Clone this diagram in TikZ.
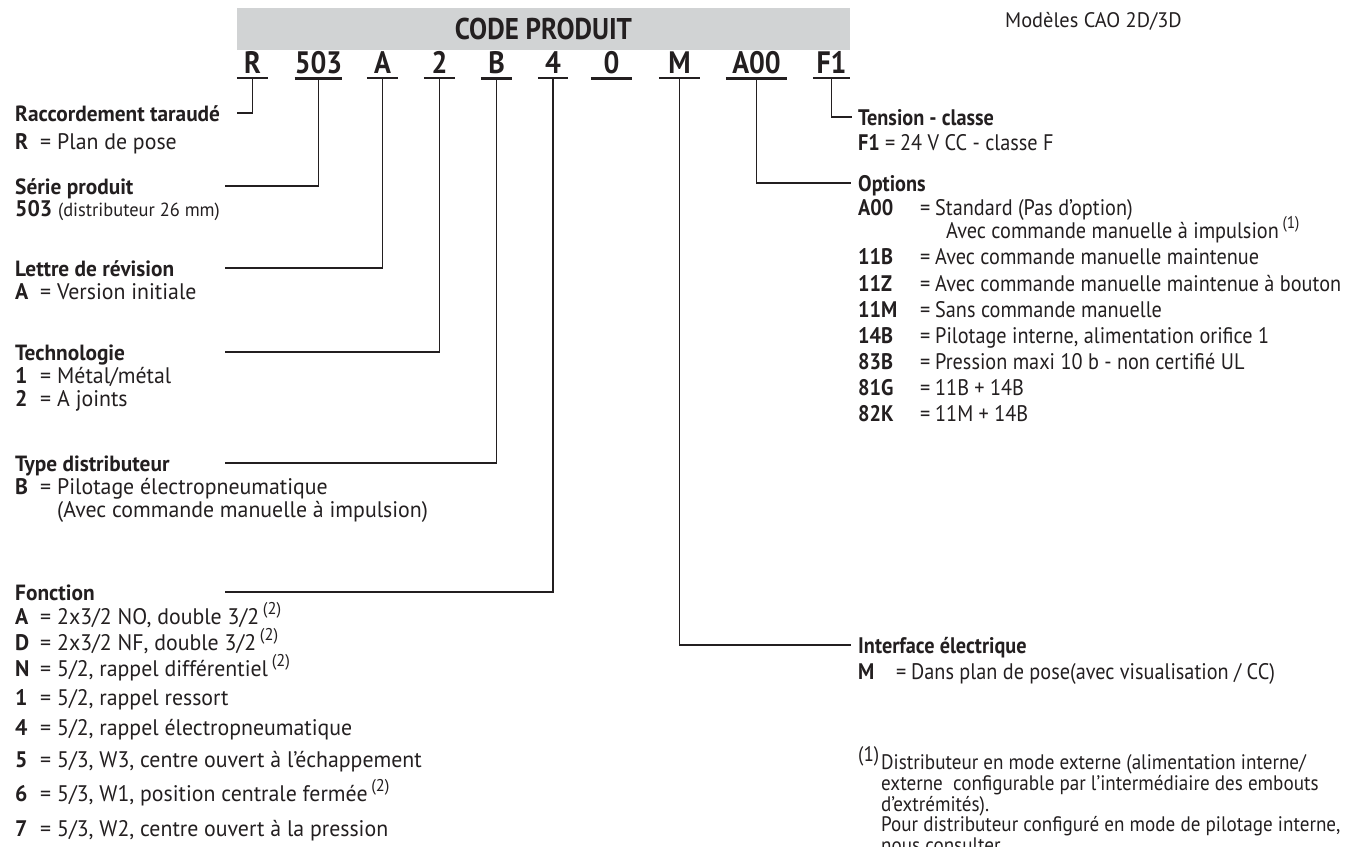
\documentclass[tikz,border=0pt]{standalone}
\usepackage{fontspec}
\setmainfont{PT Sans}[FakeStretch=0.97]
\newfontfamily\condfont{PT Sans}[FakeStretch=0.9]
\newfontfamily\notefont{PT Sans}[FakeStretch=0.91]
\definecolor{ink}{HTML}{231F20}
\definecolor{bandgray}{HTML}{D1D3D4}
\newcommand{\lcode}[2]{\makebox[25pt][l]{\bfseries #1}\makebox[17pt][l]{=}#2}
\newcommand{\ropt}[2]{\makebox[62pt][l]{\bfseries #1}\makebox[15pt][l]{=}#2}
\newcommand{\fnref}[1]{\,\raisebox{0.42em}{\fontsize{17}{17}\selectfont(#1)}}

\begin{document}
\begin{tikzpicture}[x=1pt,y=-1pt,
	txt/.style={anchor=base west, inner sep=0pt, text=ink, font=\fontsize{22.5}{26}\selectfont},
	lhead/.style={txt, text height=16pt, text depth=0pt, font=\bfseries\fontsize{22}{26}\selectfont},
	rtxt/.style={txt, font=\condfont\fontsize{22.5}{26}\selectfont},
	rhead/.style={txt, text height=16pt, text depth=0pt, font=\condfont\bfseries\fontsize{22.5}{26}\selectfont},
	note/.style={txt, font=\notefont\fontsize{21}{23}\selectfont},
	code/.style={anchor=base, inner xsep=0pt, inner ysep=5pt, text=ink, font=\condfont\bfseries\fontsize{31}{33}\selectfont},
	link/.style={draw=ink, line width=1.4pt},
	bar/.style={draw=ink, line width=2.4pt}]
	\useasboundingbox (0,0) rectangle (1360,846);

	% bandeau et code
	\node[fill=bandgray, minimum width=613pt, minimum height=42pt, inner sep=0pt, text=ink,
		font=\condfont\bfseries\fontsize{30}{32}\selectfont] (band) at (543.5,29) {CODE PRODUIT};
	\node[txt, font=\fontsize{21}{25}\selectfont] (cao) at (1005,27) {Modèles CAO 2D/3D};

	\node[code, minimum width=31pt] (cR) at (252.5,73) {R};
	\node[code, minimum width=47pt] (cSerie) at (318.5,73) {503};
	\node[code, minimum width=31pt] (cRev) at (382.5,73) {A};
	\node[code, minimum width=31pt] (cTech) at (439.5,73) {2};
	\node[code, minimum width=31pt] (cType) at (496.5,73) {B};
	\node[code, minimum width=30pt] (cFct) at (553,73) {4};
	\node[code, minimum width=41pt] (cZero) at (611.5,73) {0};
	\node[code, minimum width=41pt] (cInt) at (679.5,73) {M};
	\node[code, minimum width=61pt] (cOpt) at (756.5,73) {A00};
	\node[code, minimum width=37pt] (cTen) at (831.5,73) {F1};
	\foreach \c in {cR,cSerie,cRev,cTech,cType,cFct,cZero,cInt,cOpt,cTen}
		\draw[bar] (\c.south west) -- (\c.south east);

	% colonne gauche
	\node[lhead] (hRacc) at (15,121) {\makebox[210pt][l]{Raccordement taraudé}};
	\node[txt] (iR) at (15,149) {\lcode{R}{Plan de pose}};

	\node[lhead] (hSerie) at (15,194) {\makebox[210pt][l]{Série produit}};
	\node[txt] (i503) at (15,216) {\textbf{503} {\fontsize{19}{22}\selectfont(distributeur 26 mm)}};

	\node[lhead] (hRev) at (15,276) {\makebox[210pt][l]{Lettre de révision}};
	\node[txt] (iA) at (15,299) {\lcode{A}{Version initiale}};

	\node[lhead] (hTech) at (15,360) {\makebox[210pt][l]{Technologie}};
	\node[txt] (iT1) at (15,383) {\lcode{1}{Métal/métal}};
	\node[txt] (iT2) at (15,406) {\lcode{2}{A joints}};

	\node[lhead] (hType) at (15,471) {\makebox[210pt][l]{Type distributeur}};
	\node[txt] (iB) at (15,494) {\lcode{B}{Pilotage électropneumatique}};
	\node[txt] (iB2) at (57,517) {(Avec commande manuelle à impulsion)};

	\node[lhead] (hFct) at (15,600) {\makebox[210pt][l]{Fonction}};
	\node[txt] (fA) at (15,624) {\lcode{A}{2x3/2 NO, double 3/2\fnref{2}}};
	\node[txt] (fD) at (15,650) {\lcode{D}{2x3/2 NF, double 3/2\fnref{2}}};
	\node[txt] (fN) at (15,676) {\lcode{N}{5/2, rappel différentiel\fnref{2}}};
	\node[txt] (f1) at (15,705) {\lcode{1}{5/2, rappel ressort}};
	\node[txt] (f4) at (15,735) {\lcode{4}{5/2, rappel électropneumatique}};
	\node[txt] (f5) at (15,767) {\lcode{5}{5/3, W3, centre ouvert à l’échappement}};
	\node[txt] (f6) at (15,801) {\lcode{6}{5/3, W1, position centrale fermée\fnref{2}}};
	\node[txt] (f7) at (15,836) {\lcode{7}{5/3, W2, centre ouvert à la pression}};

	% colonne droite
	\node[rhead] (hTen) at (858,125) {Tension - classe};
	\node[rtxt] (rF1) at (858,150) {\makebox[27pt][l]{\bfseries F1}\makebox[15pt][l]{=}24 V CC - classe F};

	\node[rhead] (hOpt) at (858,191) {Options};
	\node[rtxt] (oA00) at (858,215) {\ropt{A00}{Standard (Pas d’option)}};
	\node[rtxt] (oA00b) at (946,238) {Avec commande manuelle à impulsion\fnref{1}};
	\node[rtxt] (o11B) at (858,264) {\ropt{11B}{Avec commande manuelle maintenue}};
	\node[rtxt] (o11Z) at (858,291) {\ropt{11Z}{Avec commande manuelle maintenue à bouton}};
	\node[rtxt] (o11M) at (858,317) {\ropt{11M}{Sans commande manuelle}};
	\node[rtxt] (o14B) at (858,343) {\ropt{14B}{Pilotage interne, alimentation orifice 1}};
	\node[rtxt] (o83B) at (858,369) {\ropt{83B}{Pression maxi 10 b - non certifié UL}};
	\node[rtxt] (o81G) at (858,395) {\ropt{81G}{11B + 14B}};
	\node[rtxt] (o82K) at (858,421) {\ropt{82K}{11M + 14B}};

	\node[rhead] (hInt) at (858,653) {Interface électrique};
	\node[rtxt] (iM) at (858,679) {\makebox[38pt][l]{\bfseries M}\makebox[15pt][l]{=}Dans plan de pose(avec visualisation / CC)};

	\node[note] (n1) at (858,769) {\makebox[23pt][l]{\raisebox{0.35em}{(1)}}Distributeur en mode externe (alimentation interne/};
	\node[note] (n2) at (881,790) {externe\ \ configurable par l’intermédiaire des embouts};
	\node[note] (n3) at (881,811) {d’extrémités).};
	\node[note] (n4) at (881,831) {Pour distributeur configuré en mode de pilotage interne,};
	\node[note] (n5) at (881,852) {nous consulter.};

	% liaisons
	\draw[link] (cR.south) |- ([xshift=12pt]hRacc.east);
	\draw[link] (cSerie.south) |- (hSerie.east);
	\draw[link] (cRev.south) |- (hRev.east);
	\draw[link] (cTech.south) |- (hTech.east);
	\draw[link] (cType.south) |- (hType.east);
	\draw[link] (cFct.south) |- (hFct.east);
	\draw[link] (cInt.south) |- ([xshift=-7pt]hInt.west);
	\draw[link] (cOpt.south) |- ([xshift=-7pt]hOpt.west);
	\draw[link] (cTen.south) |- ([xshift=-6pt]hTen.west);
\end{tikzpicture}
\end{document}
